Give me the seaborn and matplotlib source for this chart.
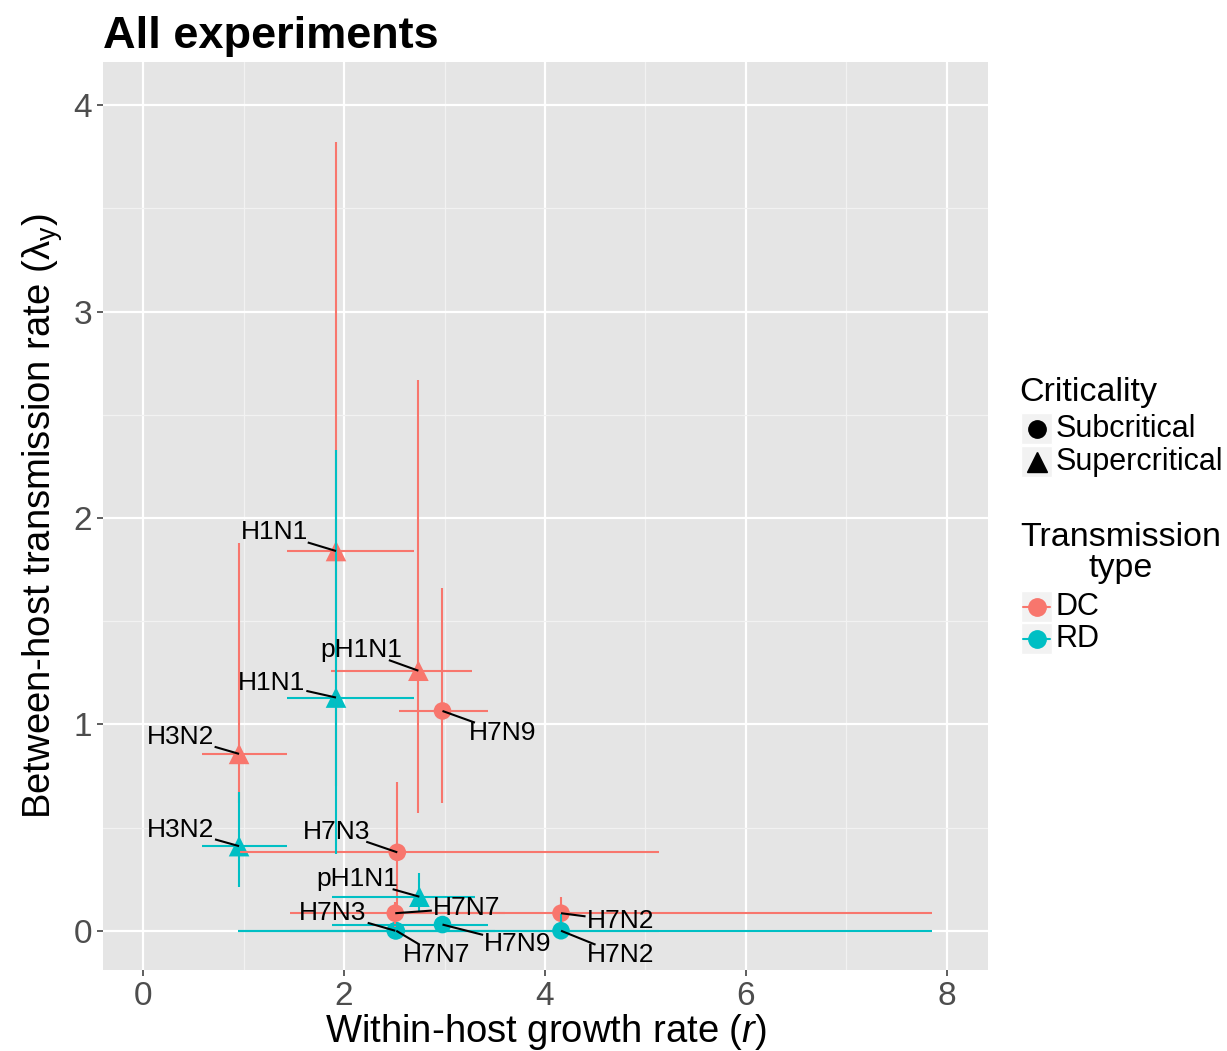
import numpy as np
import pandas as pd
import matplotlib
matplotlib.use("Agg")
import matplotlib.pyplot as plt
from matplotlib.lines import Line2D
from matplotlib.patches import Rectangle
import seaborn as sns

# ---- data -------------------------------------------------------------
strain = ["H1N1", "H3N2", "pH1N1", "H7N9", "H7N3", "H7N7", "H7N2"]

# direct contact (DC)
dc_r      = [1.92, 0.955, 2.74, 2.98, 2.53, 2.51, 4.16]
dc_r_lo   = [1.43, 0.59, 1.87, 2.55, 0.96, 1.46, 2.60]
dc_r_hi   = [2.70, 1.43, 3.27, 3.43, 5.14, 3.60, 7.85]
dc_lam    = [1.84, 0.857, 1.26, 1.065, 0.38, 0.085, 0.085]
dc_lam_lo = [0.70, 0.62, 0.57, 0.62, 0.09, 0.00, 0.00]
dc_lam_hi = [3.82, 1.88, 2.67, 1.66, 0.72, 0.14, 0.165]
dc_crit   = ["Supercritical", "Supercritical", "Supercritical",
             "Subcritical", "Subcritical", "Subcritical", "Subcritical"]

# respiratory droplet (RD)
rd_r      = [1.92, 0.955, 2.75, 2.98, 2.51, 2.52, 4.16]
rd_r_lo   = [1.43, 0.59, 1.88, 1.88, 0.94, 1.46, 0.94]
rd_r_hi   = [2.70, 1.43, 3.30, 3.43, 5.14, 3.50, 7.85]
rd_lam    = [1.13, 0.41, 0.165, 0.03, 0.00, 0.00, 0.00]
rd_lam_lo = [0.37, 0.21, 0.09, 0.00, 0.00, 0.00, 0.00]
rd_lam_hi = [2.33, 0.67, 0.28, 0.06, 0.02, 0.02, 0.08]
rd_crit   = ["Supercritical", "Supercritical", "Supercritical",
             "Subcritical", "Subcritical", "Subcritical", "Subcritical"]

# label text positions (data units), as placed by the repel layout
dc_lab_x = [1.31, 0.37, 2.17, 3.58, 1.93, 3.22, 4.75]
dc_lab_y = [1.93, 0.94, 1.36, 0.96, 0.48, 0.11, 0.048]
rd_lab_x = [1.28, 0.37, 2.13, 3.73, 1.89, 2.92, 4.75]
rd_lab_y = [1.20, 0.49, 0.25, -0.063, 0.087, -0.116, -0.116]

types = ["DC", "RD"]
palette = {"DC": "#F8766D", "RD": "#00BFC4"}

df = pd.DataFrame({
    "strain": strain * 2,
    "type": ["DC"] * 7 + ["RD"] * 7,
    "r": dc_r + rd_r,
    "r_lo": dc_r_lo + rd_r_lo,
    "r_hi": dc_r_hi + rd_r_hi,
    "lam": dc_lam + rd_lam,
    "lam_lo": dc_lam_lo + rd_lam_lo,
    "lam_hi": dc_lam_hi + rd_lam_hi,
    "crit": dc_crit + rd_crit,
    "lab_x": dc_lab_x + rd_lab_x,
    "lab_y": dc_lab_y + rd_lab_y,
})

# ---- style ------------------------------------------------------------
sns.set_theme(style="darkgrid")
plt.rcParams["font.family"] = ["Liberation Sans", "DejaVu Sans"]
plt.rcParams["mathtext.fontset"] = "custom"
plt.rcParams["mathtext.rm"] = "Liberation Sans"
plt.rcParams["mathtext.it"] = "Liberation Sans:italic"
plt.rcParams["text.color"] = "black"
plt.rcParams["axes.labelcolor"] = "black"
plt.rcParams["axes.titlecolor"] = "black"

fig = plt.figure(figsize=(12.27, 10.51), dpi=100)
ax = fig.add_axes([0.0839, 0.0771, 0.7213, 0.8640])
ax.set_facecolor("#E5E5E5")
for s in ax.spines.values():
    s.set_visible(False)

ax.set_xlim(-0.40, 8.41)
ax.set_ylim(-0.19, 4.21)
ax.set_xticks([0, 2, 4, 6, 8])
ax.set_yticks([0, 1, 2, 3, 4])
ax.set_xticks([1, 3, 5, 7], minor=True)
ax.set_yticks([0.5, 1.5, 2.5, 3.5], minor=True)
ax.grid(which="major", color="white", linewidth=1.6)
ax.grid(which="minor", color="#F2F2F2", linewidth=0.9)
ax.set_axisbelow(True)
ax.tick_params(which="major", axis="both", direction="out", length=4,
               width=1.1, color="#333333", labelsize=24,
               labelcolor="#4D4D4D", pad=4, bottom=True, left=True)
ax.tick_params(which="minor", length=0)

# points
sns.scatterplot(data=df, x="r", y="lam", hue="type", style="crit",
                size="crit", sizes={"Subcritical": 160, "Supercritical": 220},
                markers={"Subcritical": "o", "Supercritical": "^"},
                palette=palette, linewidth=0, legend=False, ax=ax, zorder=3)

# error bars on top of the points, DC first then RD
for t in types:
    sub = df[df["type"] == t]
    ax.errorbar(sub["r"], sub["lam"],
                xerr=[sub["r"] - sub["r_lo"], sub["r_hi"] - sub["r"]],
                fmt="none", ecolor=palette[t], elinewidth=1.5, capsize=0,
                zorder=4)
    ax.errorbar(sub["r"], sub["lam"],
                yerr=[sub["lam"] - sub["lam_lo"], sub["lam_hi"] - sub["lam"]],
                fmt="none", ecolor=palette[t], elinewidth=1.5, capsize=0,
                zorder=4)

ax.set_xlabel(r"Within-host growth rate ($\mathit{r}$)", fontsize=27.5,
              labelpad=0)
ax.set_ylabel(r"Between-host transmission rate (λ$_{\mathrm{y}}$)",
              fontsize=27.5, labelpad=6)
ax.set_title("All experiments", fontsize=32.5, fontweight="bold", loc="left",
             pad=10)

# strain labels
texts = []
for _, row in df.iterrows():
    tx = ax.text(row["lab_x"], row["lab_y"], row["strain"], fontsize=19,
                 ha="center", va="center", color="black", zorder=6)
    texts.append((tx, row["r"], row["lam"]))

fig.canvas.draw()
renderer = fig.canvas.get_renderer()
inv = ax.transData.inverted()
for tx, px, py in texts:
    bb = tx.get_window_extent(renderer)
    cx, cy = (bb.x0 + bb.x1) / 2, (bb.y0 + bb.y1) / 2
    hw, hh = bb.width / 2 + 1, bb.height / 2 - 2
    P = ax.transData.transform((px, py))
    dx, dy = P[0] - cx, P[1] - cy
    t = min(hw / abs(dx) if dx else np.inf, hh / abs(dy) if dy else np.inf)
    start = inv.transform((cx + t * dx, cy + t * dy))
    ax.plot([start[0], px], [start[1], py], color="black", lw=1.5, zorder=5,
            solid_capstyle="butt")

# ---- legends ----------------------------------------------------------
W, H = fig.get_size_inches() * fig.dpi


def fx(x):
    return x / W


def fy(y):
    return 1 - y / H


def key_box(y_top):
    fig.add_artist(Rectangle((fx(1021), fy(y_top + 31)), 31 / W, 31 / H,
                             transform=fig.transFigure, facecolor="#F2F2F2",
                             edgecolor="white", lw=1))


fig.text(fx(1019), fy(393), "Criticality", fontsize=24.5, va="center",
         ha="left")
for y_top, lab, mk, ms in [(413, "Subcritical", "o", 12.5),
                           (446, "Supercritical", "^", 14)]:
    key_box(y_top)
    fig.add_artist(Line2D([fx(1036.5)], [fy(y_top + 15.5)], marker=mk,
                          markersize=ms, color="black", linestyle="none",
                          transform=fig.transFigure))
    fig.text(fx(1056), fy(y_top + 16), lab, fontsize=22, va="center",
             ha="left")

fig.text(fx(1121), fy(553), "Transmission\ntype", fontsize=24.5,
         va="center", ha="center", linespacing=1.0)
for y_top, t in [(591, "DC"), (623, "RD")]:
    key_box(y_top)
    fig.add_artist(Line2D([fx(1023), fx(1050)], [fy(y_top + 15.5)] * 2,
                          color=palette[t], lw=1.5,
                          transform=fig.transFigure))
    fig.add_artist(Line2D([fx(1036.5)], [fy(y_top + 15.5)], marker="o",
                          markersize=12.5, color=palette[t],
                          linestyle="none", transform=fig.transFigure))
    fig.text(fx(1056), fy(y_top + 16), t, fontsize=22, va="center",
             ha="left")

fig.savefig("out.png", dpi=100, facecolor="white")
